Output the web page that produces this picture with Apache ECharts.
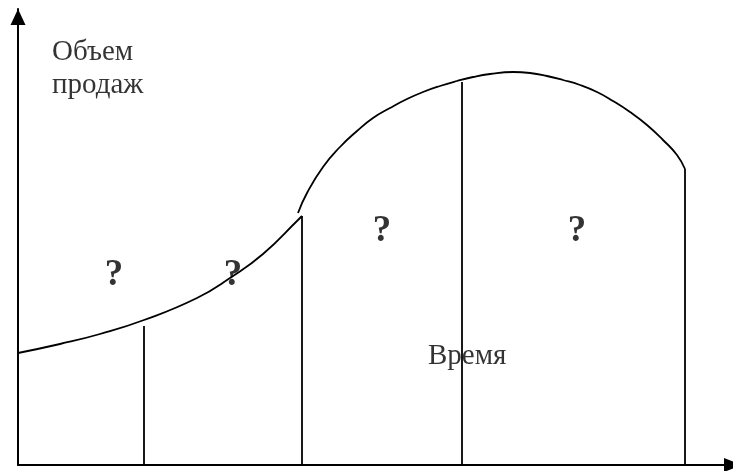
<!DOCTYPE html>
<html>
<head>
<meta charset="utf-8">
<script src="https://cdn.jsdelivr.net/npm/echarts@6/dist/echarts.min.js"></script>
<style>html,body{margin:0;padding:0;background:#fff}#c{width:733px;height:471px}</style>
</head>
<body>
<div id="c"></div>
<script>
// Sales curve: introduction + growth segment
const introCurve = [[0,22.4],[8.4,24.2],[16.4,26.2],[25.2,29.0],[35.8,33.4],[42.4,37.4],[49,42.2],[56,49],[56.8,49.8]];
// Sales curve: growth + maturity + decline segment
const mainCurve = [[56,50.4],[57.8,54.4],[61,59.6],[64.4,63.6],[67.8,66.8],[71,69.4],[74.4,71.4],[77.8,73.2],[81,74.6],[84.4,75.8],[87.8,76.8],[91,77.6],[94.4,78.2],[99,78.6],[102.4,78.4],[105.8,77.8],[109,77.0],[112.4,76],[115.8,74.6],[119,72.8],[122.4,70.6],[125.8,68],[129,65],[131.8,62],[133.4,59.2]];
// Stage dividers: x position and top height
const dividerX = [25.2, 56.8, 88.8, 133.4];
const dividerTop = [27.8, 49.8, 76.6, 59.2];
// Stage question marks
const qX = [19.2, 43, 72.8, 111.8];
const qY = [38, 38, 46.8, 46.8];
const yTitle = ['Объем', 'продаж'];
const xTitle = 'Время';

const black = '#000';
const series = [];
series.push({type:'line', data:introCurve, smooth:0.5, symbol:'none', lineStyle:{color:black,width:1.8}, silent:true});
series.push({type:'line', data:mainCurve, smooth:0.5, symbol:'none', lineStyle:{color:black,width:1.8}, silent:true});
dividerX.forEach((x,i)=>{
  series.push({type:'line', data:[[x,0],[x,dividerTop[i]]], symbol:'none', lineStyle:{color:black,width:1.8}, silent:true});
});
const serif = '"Liberation Serif","DejaVu Serif",serif';
series.push({type:'scatter', symbolSize:0, silent:true,
  data: qX.map((x,i)=>({value:[x,qY[i]]})),
  label:{show:true, position:[0,0], formatter:'?', align:'center', verticalAlign:'middle', fontFamily:serif, fontWeight:'bold', fontSize:37, color:black}
});
series.push({type:'scatter', symbolSize:0, silent:true,
  data:[{value:[6.8,82.6], name:yTitle[0]},{value:[6.8,76.0], name:yTitle[1]},{value:[82,21.8], name:xTitle}],
  label:{show:true, position:[0,0], formatter:'{b}', align:'left', verticalAlign:'middle', fontFamily:serif, fontSize:29, color:black}
});

const chart = echarts.init(document.getElementById('c'), null, {renderer:'canvas'});
chart.setOption({
  animation:false,
  backgroundColor:'#fff',
  grid:{left:18, right:0, top:9, bottom:6, containLabel:false},
  xAxis:{type:'value', min:0, max:143, axisLabel:{show:false}, axisTick:{show:false}, splitLine:{show:false},
    axisLine:{show:true, onZero:false, symbol:['none','triangle'], symbolSize:[14,18], symbolOffset:[0,0], lineStyle:{color:black,width:2}}},
  yAxis:{type:'value', min:0, max:91.2, axisLabel:{show:false}, axisTick:{show:false}, splitLine:{show:false},
    axisLine:{show:true, onZero:false, symbol:['none','triangle'], symbolSize:[15,16], symbolOffset:[0,-8], lineStyle:{color:black,width:2}}},
  series: series
});
</script>
</body>
</html>
